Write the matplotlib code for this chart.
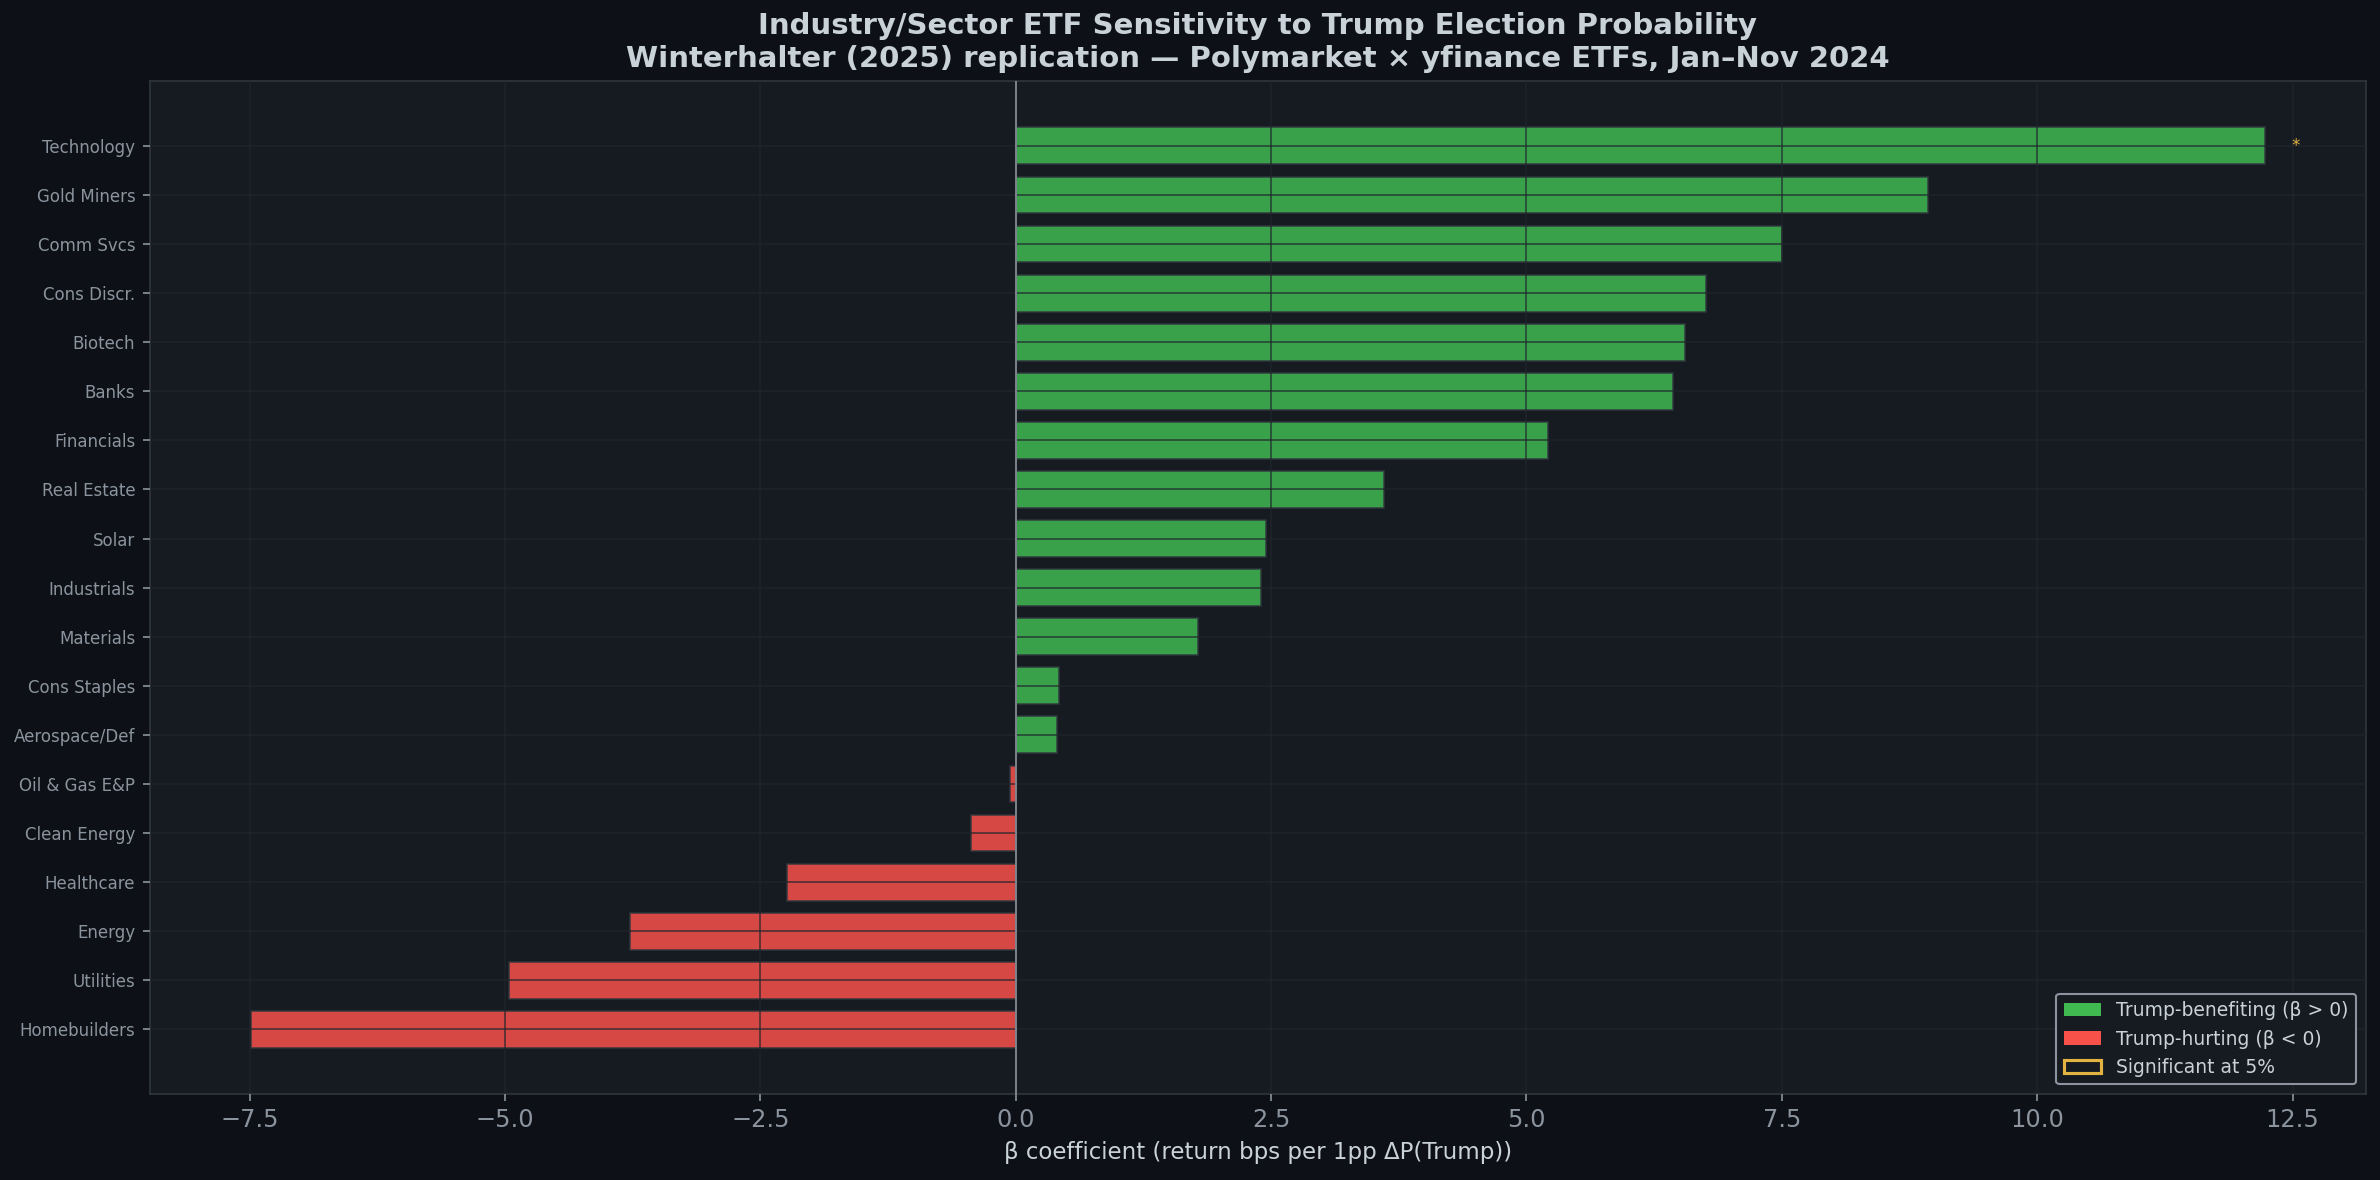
import matplotlib
matplotlib.use("Agg")
import matplotlib.pyplot as plt
from matplotlib.patches import Patch

# sectors listed top to bottom, beta in bps per 1pp change in P(Trump)
sectors = ["Technology", "Gold Miners", "Comm Svcs", "Cons Discr.", "Biotech",
           "Banks", "Financials", "Real Estate", "Solar", "Industrials",
           "Materials", "Cons Staples", "Aerospace/Def", "Oil & Gas E&P",
           "Clean Energy", "Healthcare", "Energy", "Utilities", "Homebuilders"]
betas = [12.23, 8.93, 7.50, 6.76, 6.55, 6.43, 5.21, 3.61, 2.45, 2.40,
         1.78, 0.42, 0.40, -0.06, -0.44, -2.24, -3.78, -4.96, -7.49]
significant = [True] + [False] * 18

BG = "#0d1117"
PANEL = "#161b22"
GREEN = "#3fb950"
RED = "#f85149"
GOLD = "#e3b341"
TXT = "#c9d1d9"
MUTED = "#8b949e"
EDGE = "#30363d"

fig = plt.figure(figsize=(2380 / 150, 1180 / 150), dpi=150, facecolor=BG)
ax = fig.add_subplot(111)
fig.subplots_adjust(left=0.063, right=0.994, top=0.931, bottom=0.073)
ax.set_facecolor(PANEL)

colors = [GREEN if b > 0 else RED for b in betas]
ax.barh(sectors, betas, height=0.75, color=colors, alpha=0.85,
        edgecolor=EDGE, linewidth=0.8, zorder=2)
ax.invert_yaxis()

for i, (b, sig) in enumerate(zip(betas, significant)):
    if sig:
        ax.text(b + 0.3, i, "*", color=GOLD, fontsize=8, va="center", ha="center", zorder=4)

ax.axvline(0, color=MUTED, linewidth=0.8, zorder=3)

ax.set_axisbelow(False)
ax.grid(True, color="#21262d", alpha=0.75, linewidth=0.8, zorder=2.5)

for s in ax.spines.values():
    s.set_color(EDGE)
ax.tick_params(axis="x", colors=MUTED, labelsize=11.5)
ax.tick_params(axis="y", colors=MUTED, labelsize=8)

ax.set_xlabel("β coefficient (return bps per 1pp ΔP(Trump))", color=TXT, fontsize=11)
ax.set_title("Industry/Sector ETF Sensitivity to Trump Election Probability\n"
             "Winterhalter (2025) replication — Polymarket × yfinance ETFs, Jan–Nov 2024",
             color=TXT, fontsize=14, fontweight="bold", pad=7)

handles = [Patch(facecolor=GREEN, label="Trump-benefiting (β > 0)"),
           Patch(facecolor=RED, label="Trump-hurting (β < 0)"),
           Patch(facecolor="none", edgecolor=GOLD, linewidth=1.5, label="Significant at 5%")]
leg = ax.legend(handles=handles, loc="lower right", fontsize=9, facecolor=PANEL,
                edgecolor=MUTED, labelcolor=TXT, framealpha=1)

fig.savefig("out.png", dpi=150, facecolor=BG)
